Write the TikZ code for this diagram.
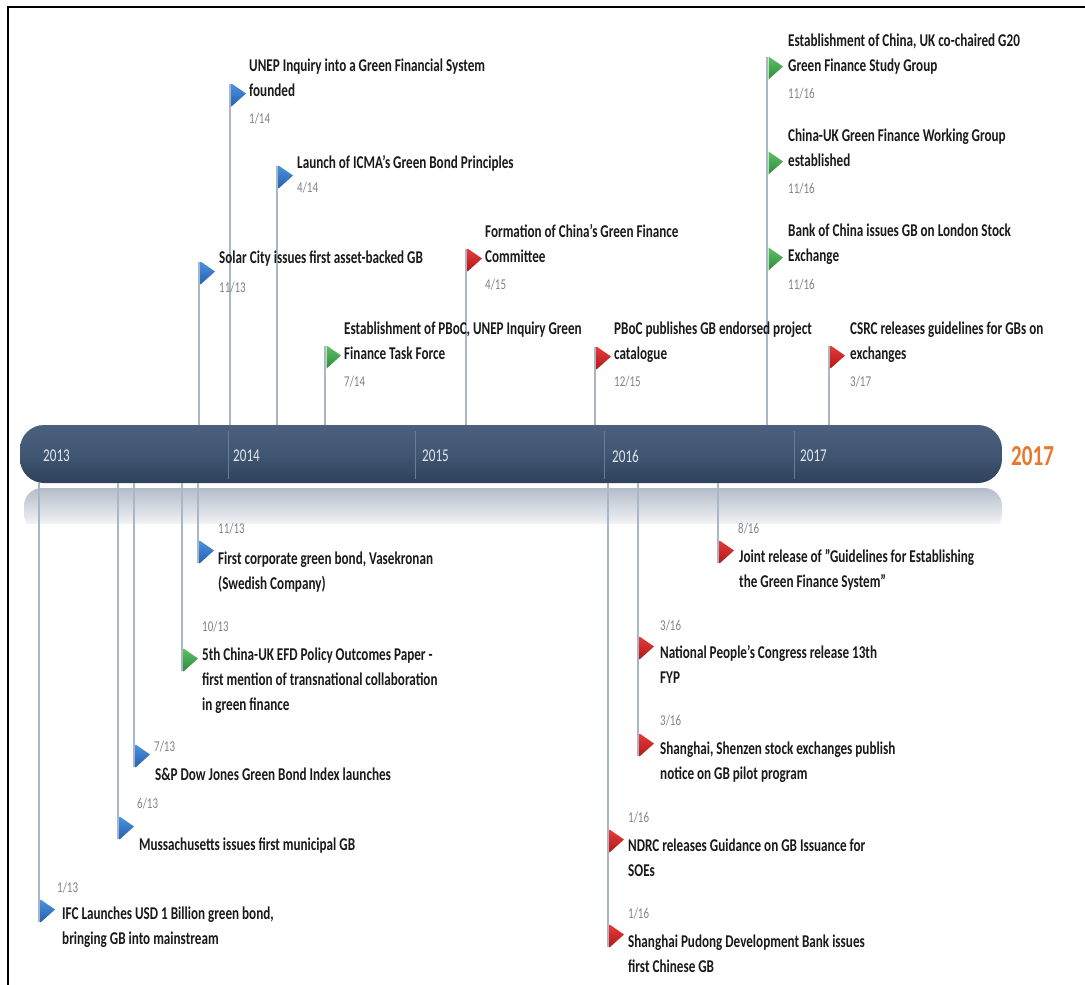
\documentclass[tikz,border=0pt]{standalone}
\usepackage{fontspec}
\setmainfont{Carlito}[FakeStretch=0.73]
\usetikzlibrary{calc}
\definecolor{bartop}{HTML}{4B607E}
\definecolor{barmid}{HTML}{415672}
\definecolor{barbot}{HTML}{2F415A}
\definecolor{refl}{HTML}{B3BDC9}
\definecolor{vcol}{HTML}{A9B6C6}
\definecolor{sepcol}{HTML}{6A7D96}
\definecolor{yearcol}{HTML}{E2E6EC}
\definecolor{orangeyr}{HTML}{E8782C}
\definecolor{evcol}{HTML}{1A1A1A}
\definecolor{datecol}{HTML}{7E838A}
\definecolor{blueA}{HTML}{4C92E0}
\definecolor{blueB}{HTML}{2560B0}
\definecolor{greenA}{HTML}{5CC063}
\definecolor{greenB}{HTML}{2E8B3C}
\definecolor{redA}{HTML}{E83A3A}
\definecolor{redB}{HTML}{B01A1A}
\newcommand\flagmark[2]{%
  \shade[top color=#1A, bottom color=#1B]
    ($(#2)+(1.5,-11.5)$) -- ($(#2)+(16,-1.5)$) -- ($(#2)+(1.5,11.5)$) -- cycle;}
\tikzset{
  evtext/.style={anchor=base west, align=left, inner sep=0pt,
    font=\bfseries\fontsize{18}{25}\selectfont, text=evcol},
  datetext/.style={anchor=base west, inner sep=0pt,
    font=\fontsize{15}{18}\selectfont, text=datecol},
  vline/.style={draw=vcol, line width=1.1pt},
  sepline/.style={draw=sepcol, line width=0.8pt},
  yearlabel/.style={anchor=west, inner sep=0pt, text=yearcol,
    font=\fontsize{18}{20}\selectfont},
  barstyle/.style={rounded corners=24pt, minimum width=982pt, minimum height=58pt,
    inner sep=0pt, top color=bartop, bottom color=barbot, middle color=barmid},
}
\begin{document}
\begin{tikzpicture}[x=1pt,y=-1pt]
\useasboundingbox (0,0) rectangle (1085,985);
\fill[white] (0,0) rectangle (1085,985);
% frame
\draw[line width=2.5pt] (8,985) -- (8,7) -- (1085,7);
% reflection
\shade[top color=refl, bottom color=white, rounded corners=18pt] (24,488) rectangle (1002,532);
\fill[white] (20,524) rectangle (1006,540);

% flag coordinates
\coordinate (fA) at (230,95);
\coordinate (fB) at (277,177);
\coordinate (fC) at (199,273);
\coordinate (fD) at (325,357);
\coordinate (fE) at (466,260);
\coordinate (fF) at (595,358);
\coordinate (fG1) at (767,68);
\coordinate (fG2) at (767,163);
\coordinate (fG3) at (767,259);
\coordinate (fH) at (829,357);
\coordinate (fI) at (39,911);
\coordinate (fJ) at (118,828);
\coordinate (fK) at (134,756);
\coordinate (fL) at (182,660);
\coordinate (fM) at (198,552);
\coordinate (fN1) at (608,841);
\coordinate (fN2) at (608,936);
\coordinate (fO1) at (638,648);
\coordinate (fO2) at (638,745);
\coordinate (fP) at (718,552);

% bar
\node[barstyle] (bar) at (511,454) {};

% connectors
\foreach \f in {fA,fB,fC,fD,fE,fF,fG1,fH}
  \draw[vline] ($(\f)+(0,-11)$) -- (\f |- bar.north);
\foreach \f in {fI,fJ,fK,fL,fM,fN2,fO2,fP}
  \draw[vline] (bar.south -| \f) -- ($(\f)+(0,11)$);

% separators and years
\foreach \xx in {228,415,604,794}
  \draw[sepline] (\xx,431) -- (\xx,479);
\node[yearlabel] (y13) at (43,456) {2013};
\node[yearlabel] (y14) at (233,456) {2014};
\node[yearlabel] (y15) at (422,456) {2015};
\node[yearlabel] (y16) at (612,456) {2016};
\node[yearlabel] (y17) at (800,456) {2017};
\node[anchor=west, inner sep=0pt, text=orangeyr, font=\bfseries\fontsize{29}{30}\selectfont] (yend) at (1011,456) {2017};

% flags
\flagmark{blue}{fA}
\flagmark{blue}{fB}
\flagmark{blue}{fC}
\flagmark{green}{fD}
\flagmark{red}{fE}
\flagmark{red}{fF}
\flagmark{green}{fG1}
\flagmark{green}{fG2}
\flagmark{green}{fG3}
\flagmark{red}{fH}
\flagmark{blue}{fI}
\flagmark{blue}{fJ}
\flagmark{blue}{fK}
\flagmark{green}{fL}
\flagmark{blue}{fM}
\flagmark{red}{fN1}
\flagmark{red}{fN2}
\flagmark{red}{fO1}
\flagmark{red}{fO2}
\flagmark{red}{fP}

% top texts (positions = baseline of last line)
\node[evtext] (tA) at (249,96) {UNEP Inquiry into a Green Financial System\\founded};
\node[datetext] (dA) at (249,123) {1/14};
\node[evtext] (tB) at (297,168) {Launch of ICMA's Green Bond Principles};
\node[datetext] (dB) at (297,192) {4/14};
\node[evtext] (tC) at (219,263) {Solar City issues first asset-backed GB};
\node[datetext] (dC) at (219,292) {11/13};
\node[evtext] (tD) at (344,359) {Establishment of PBoC, UNEP Inquiry Green\\Finance Task Force};
\node[datetext] (dD) at (344,386) {7/14};
\node[evtext] (tE) at (485,262) {Formation of China's Green Finance\\Committee};
\node[datetext] (dE) at (485,289) {4/15};
\node[evtext] (tF) at (614,359) {PBoC publishes GB endorsed project\\catalogue};
\node[datetext] (dF) at (614,386) {12/15};
\node[evtext] (tG1) at (788,71) {Establishment of China, UK co-chaired G20\\Green Finance Study Group};
\node[datetext] (dG1) at (788,98) {11/16};
\node[evtext] (tG2) at (788,166) {China-UK Green Finance Working Group\\established};
\node[datetext] (dG2) at (788,193) {11/16};
\node[evtext] (tG3) at (788,261) {Bank of China issues GB on London Stock\\Exchange};
\node[datetext] (dG3) at (788,289) {11/16};
\node[evtext] (tH) at (850,359) {CSRC releases guidelines for GBs on\\exchanges};
\node[datetext] (dH) at (850,386) {3/17};

% bottom texts
\node[datetext] (dI) at (57,892) {1/13};
\node[evtext] (tI) at (62,944) {IFC Launches USD 1 Billion green bond,\\bringing GB into mainstream};
\node[datetext] (dJ) at (137,808) {6/13};
\node[evtext] (tJ) at (139,850) {Mussachusetts issues first municipal GB};
\node[datetext] (dK) at (154,751) {7/13};
\node[evtext] (tK) at (155,780) {S\&P Dow Jones Green Bond Index launches};
\node[datetext] (dL) at (202,631) {10/13};
\node[evtext] (tL) at (202,710) {5th China-UK EFD Policy Outcomes Paper -\\first mention of transnational collaboration\\in green finance};
\node[datetext] (dM) at (218,533) {11/13};
\node[evtext] (tM) at (218,589) {First corporate green bond, Vasekronan\\(Swedish Company)};
\node[datetext] (dN1) at (628,822) {1/16};
\node[evtext] (tN1) at (628,876) {NDRC releases Guidance on GB Issuance for\\SOEs};
\node[datetext] (dN2) at (628,918) {1/16};
\node[evtext] (tN2) at (628,972) {Shanghai Pudong Development Bank issues\\first Chinese GB};
\node[datetext] (dO1) at (660,630) {3/16};
\node[evtext] (tO1) at (660,683) {National People's Congress release 13th\\FYP};
\node[datetext] (dO2) at (660,725) {3/16};
\node[evtext] (tO2) at (660,779) {Shanghai, Shenzen stock exchanges publish\\notice on GB pilot program};
\node[datetext] (dP) at (738,533) {8/16};
\node[evtext] (tP) at (739,587) {Joint release of "Guidelines for Establishing\\the Green Finance System"};
\end{tikzpicture}
\end{document}
